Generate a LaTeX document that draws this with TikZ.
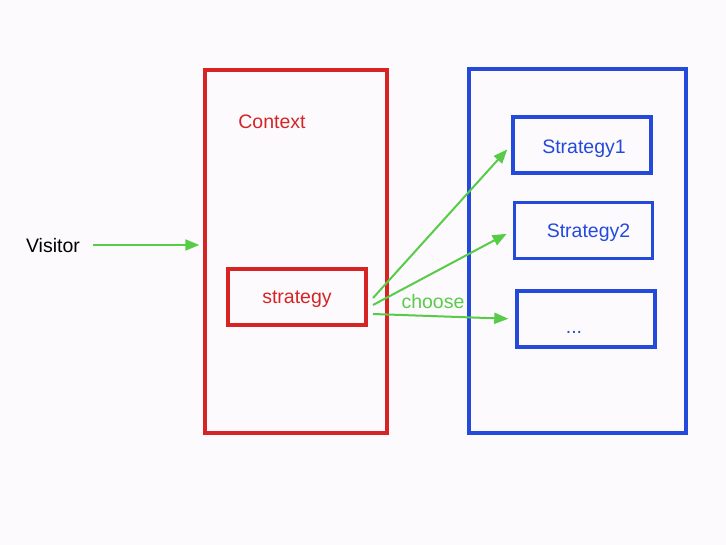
\documentclass[tikz,border=0pt]{standalone}
\usepackage{fontspec}
\setmainfont{Liberation Sans}
\usetikzlibrary{arrows.meta}
\definecolor{bgpink}{RGB}{253,250,253}
\definecolor{ctxred}{RGB}{214,36,36}
\definecolor{stblue}{RGB}{36,74,220}
\definecolor{arrgreen}{RGB}{88,204,72}
\begin{document}
\begin{tikzpicture}[x=1pt, y=-1pt,
    every node/.style={font=\fontsize{19.5}{23}\selectfont, text depth=0pt},
    redbox/.style={draw=ctxred, line width=3.4pt, text=ctxred, inner sep=0pt},
    bluebox/.style={draw=stblue, line width=3.4pt, text=stblue, inner sep=0pt,
        minimum width=138pt, minimum height=56pt},
    greenarrow/.style={draw=arrgreen, line width=2pt,
        -{Triangle[length=14pt, width=11pt]}}]

    % background and margins
    \fill[bgpink] (0,0) rectangle (726,545);
    \useasboundingbox (0,0) rectangle (726,545);

    % Context side
    \node[redbox, minimum width=182pt, minimum height=363pt] (context) at (296,251.5) {};
    \node[text=ctxred] (contextlabel) at (272,122) {Context};
    \node[redbox, minimum width=138pt, minimum height=56pt] (strategy) at (297,297) {strategy};

    % Strategy side
    \node[draw=stblue, line width=3.4pt, minimum width=217pt, minimum height=364pt] (family) at (577.5,251) {};
    \node[bluebox] (strategy1) at (582,145) {\hspace*{4pt}\raisebox{-3pt}{Strategy1}};
    \node[bluebox] (strategy2) at (583.5,230.5) {\hspace*{10pt}\raisebox{-1pt}{Strategy2}};
    \node[bluebox] (others) at (586,319) {};
    \node[text=stblue] (dots) at (574,332) {...};

    % visitor
    \node (visitor) at (53,245) {Visitor};
    \draw[greenarrow, shorten <=10pt, shorten >=4pt] (visitor.east) -- (context.west |- visitor.east);

    % choose arrows
    \coordinate (from1) at (373,298);
    \coordinate (from2) at (373,305);
    \coordinate (from3) at (373,314);
    \draw[greenarrow, shorten >=6pt] (from1) -- (strategy1.west);
    \draw[greenarrow, shorten >=7pt] (from2) -- (strategy2.west);
    \draw[greenarrow, shorten >=7pt] (from3) -- (others.west);
    \node[text=arrgreen] (choose) at (433,301) {choose};
\end{tikzpicture}
\end{document}
